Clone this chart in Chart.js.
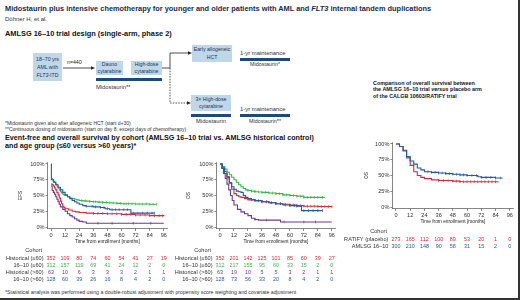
<!DOCTYPE html>
<html><head><meta charset="utf-8">
<script src="https://cdn.jsdelivr.net/npm/chart.js@4.4.0/dist/chart.umd.min.js"></script>
<style>
html,body{margin:0;padding:0;background:#fff;}
#wrap{position:relative;width:520px;height:300px;overflow:hidden;font-family:"Liberation Sans",Arial,sans-serif;color:#222;box-sizing:border-box;border-right:2px solid #333;border-bottom:2px solid #333;}
.t{position:absolute;white-space:nowrap;line-height:1;}
.box{position:absolute;background:#c0d7e9;color:#1d3557;font-size:5.2px;text-align:center;display:flex;align-items:center;justify-content:center;}
.box div{line-height:1.4;white-space:nowrap;}
.bar{position:absolute;background:#1f4a78;height:3px;}
canvas{position:absolute;}
svg{position:absolute;left:0;top:0;}
</style></head>
<body>
<div id="wrap">
<div class="t" style="left:5px;top:5px;font-size:7.4px;font-weight:bold;color:#1a2b4c;">Midostaurin plus intensive chemotherapy for younger and older patients with AML and <i>FLT3</i> internal tandem duplications</div>
<div class="t" style="left:5px;top:16px;font-size:6px;color:#333;">Döhner H, et al.</div>
<div class="t" style="left:5px;top:30px;font-size:7.4px;font-weight:bold;color:#111;">AMLSG 16–10 trial design (single-arm, phase 2)</div>

<div class="box" style="left:33px;top:53px;width:29px;height:28px;"><div style="line-height:1.6;">18–70 yrs<br>AML with<br><i>FLT3</i>-ITD</div></div>
<div class="t" style="left:67px;top:60px;font-size:5.2px;">n=440</div>
<div class="box" style="left:96px;top:61px;width:27px;height:14px;"><div>Dauno<br>cytarabine</div></div>
<div class="box" style="left:131px;top:61px;width:31px;height:14px;"><div>High-dose<br>cytarabine</div></div>
<div class="bar" style="left:96px;top:78px;width:66px;"></div>
<div class="t" style="left:96px;top:84.5px;font-size:5.8px;color:#333;">Midostaurin**</div>

<div class="box" style="left:192px;top:45px;width:40px;height:17px;"><div>Early allogeneic<br>HCT</div></div>
<div class="t" style="left:240px;top:51px;font-size:5.9px;color:#333;">1-yr maintenance</div>
<div class="bar" style="left:240px;top:57.5px;width:50px;"></div>
<div class="t" style="left:240px;top:62px;width:50px;text-align:center;font-size:5.4px;color:#333;">Midostaurin*</div>

<div class="box" style="left:191px;top:95px;width:40px;height:16px;"><div>3× High-dose<br>cytarabine</div></div>
<div class="bar" style="left:191px;top:113.5px;width:40px;"></div>
<div class="t" style="left:186px;top:118.5px;width:50px;text-align:center;font-size:5.8px;color:#333;">Midostaurin</div>
<div class="t" style="left:240px;top:107px;font-size:5.9px;color:#333;">1-yr maintenance</div>
<div class="bar" style="left:240px;top:113.5px;width:50px;"></div>
<div class="t" style="left:240px;top:118.5px;width:50px;text-align:center;font-size:5.4px;color:#333;">Midostaurin**</div>

<div class="t" style="left:5px;top:121px;font-size:5px;color:#333;">*Midostaurin given also after allogeneic HCT (start d+30)</div>
<div class="t" style="left:5px;top:127px;font-size:5px;color:#333;">**Continuous dosing of midostaurin (start on day 8; except days of chemotherapy)</div>

<div class="t" style="left:5px;top:133.5px;font-size:7.2px;font-weight:bold;color:#111;">Event-free and overall survival by cohort (AMLSG 16–10 trial vs. AMLSG historical control)</div>
<div class="t" style="left:5px;top:142px;font-size:7.2px;font-weight:bold;color:#111;">and age group (≤60 versus &gt;60 years)*</div>

<div class="t" style="left:373px;top:79.5px;font-size:5.4px;font-weight:bold;color:#111;line-height:6.6px;">Comparison of overall survival between<br>the AMLSG 16–10 trial <i>versus</i> placebo arm<br>of the CALGB 10603/RATIFY trial</div>

<div class="t" style="left:5px;top:290px;font-size:5.2px;color:#333;">*Statistical analysis was performed using a double-robust adjustment with propensity score weighting and covariate adjustment</div>

<svg width="520" height="300">
<g stroke="#222" stroke-width="0.8" fill="none">
<line x1="63" y1="68" x2="92" y2="68"/>
<polyline points="162,68 170,68 170,53 189,53"/>
<polyline points="170,68 170,103 188,103" stroke-dasharray="1.5,1.2"/>
</g>
<g fill="#222">
<polygon points="95,68 91,66.2 91,69.8"/>
<polygon points="192,53 188,51.2 188,54.8"/>
<polygon points="191,103 187,101.2 187,104.8"/>
</g>
</svg>

<canvas id="efs" width="172" height="138" style="left:0px;top:150px;"></canvas>
<canvas id="os" width="172" height="138" style="left:168px;top:150px;"></canvas>
<canvas id="cmp" width="188" height="125" style="left:330px;top:130px;"></canvas>
</div>

<script>
// ---- axes ----
const xTicks = [0, 12, 24, 36, 48, 60, 72, 84, 96];
const yTicks = [0, 25, 50, 75, 100];
const yTickLabels = ['0%', '25%', '50%', '75%', '100%'];

// ---- colors ----
const cRed = '#d62a3c', cGreen = '#3ab54a', cPurple = '#6b3b8f', cBlue = '#235b9e';

// ---- EFS curves (months, %) ----
const efsHistYoungT = [0,1,2,3,4,5,6,7,8,9,10,11,12,15,18,21,24,30,36,48,60,72,84,96];
const efsHistYoungS = [68,67,65,62,59,55,51,46,41,37,33,31,29,27,25,24,23,22,21.5,21,20,19,18,17];
const efsHistYoungC = [36,40,44,48,52,56,60,64,68,72,76,80,84,88,92,95];
const efsTrialYoungT = [0,1,2,3,4,5,6,7,8,9,10,11,12,14,16,18,20,22,24,27,30,33,36,40,44,48,52,56,60,66,72,84,90];
const efsTrialYoungS = [77,75,73,71,68,65,62,59,56,54,52,51,50,48,46,45,44,43,42,41.5,41,40.5,40,39.5,39,38.5,38,37.5,37,37,36.5,36,36];
const efsTrialYoungC = [26,29,33,36,38,41,44,47,50,53,56,59,62,64,66,69,72,75,78,81,84,87,90];
const efsHistOldT = [0,1,2,3,4,5,6,7,8,10,12,14,16,18,20,22,24,27,30,36,60,96];
const efsHistOldS = [65,58,55,52,48,44,40,36,32,28,25,21,18,16,13,11,9,8,6,6,6,6];
const efsHistOldC = [40,52,70,85];
const efsTrialOldT = [0,0.3,2,4,6,8,10,12,14,16,18,20,22,24,27,30,36,42,46,50,56,60,66,68,75,84,88];
const efsTrialOldS = [100,75,71,67,63,59,55,51,48,45,42,40,38,36,34,33,32,31,29,27.5,27.5,27.5,27.5,22,22,22,22];
const efsTrialOldC = [30,35,38,42,45,48,52,55,58,62,65,70,74,78,82,86,88];

// ---- OS curves ----
const osHistYoungT = [0,2,4,6,8,10,12,14,16,18,21,24,30,36,42,48,54,60,66,72,84,96];
const osHistYoungS = [100,95,88,80,70,60,53,50,48,47,45,43,41.5,40,38.5,37,36,35,34,33,32.5,32];
const osHistYoungC = [36,40,44,48,52,56,60,63,66,69,72,75,78,81,84,87,90,93,96];
const osTrialYoungT = [0,2,4,6,8,10,12,14,16,18,20,22,24,27,30,33,36,42,48,54,60,66,72,84,90];
const osTrialYoungS = [100,96,92,87,83,79,75,71,67,64,61,59,58,57,56,55.5,55,54,53,51,50,49,47,47,47];
const osTrialYoungC = [24,27,30,33,36,39,42,45,48,51,54,57,60,63,66,69,72,75,78,81,84,88];
const osHistOldT = [0,1.5,3,4.5,6,7.5,9,10.5,12,15,18,21,24,27,30,33,42,52,72,96];
const osHistOldS = [100,93,85,77,68,59,50,42,35,28,24,21,18,14,12,11,11,8,8,8];
const osHistOldC = [30,40,55,72,82];
const osTrialOldT = [0,2,4,6,8,10,12,14,16,18,20,22,24,27,30,36,42,48,54,60,66,70,80,88];
const osTrialOldS = [100,93,85,78,70,64,60,57,56,55,50,47,45,43.5,42,40,38.5,37,35,34,33,26,26,26];
const osTrialOldC = [27,30,33,36,40,44,48,52,56,60,64,66,72,76,80,84,88];

// ---- comparison OS curves ----
const cmpRatifyT = [0,3,6,9,12,15,18,21,24,30,36,42,48,54,60,72,86];
const cmpRatifyS = [100,96,89,78,66,56,50,47,45,43,42,42,41,40,40,40,39];
const cmpRatifyC = [36,40,44,48,51,54,57,60,63,66,69,72,75,78,81,84];
const cmpAmlsgT = [0,3,6,9,12,15,18,21,24,30,36,42,48,54,60,66,69,72,84,90];
const cmpAmlsgS = [100,96,90,80,73,68,62,59,56,55,54,53,52,51,50,50,48,47,46,46];
const cmpAmlsgC = [27,30,33,36,39,42,45,48,51,54,57,60,64,68,72,76,80,84,88];

// ---- numbers at risk ----
const efsRiskLabels = ['Historical (≤60)', '16–10 (≤60)', 'Historical (>60)', '16–10 (>60)'];
const efsRiskHistYoung = [352,109,80,74,60,54,41,27,19];
const efsRiskTrialYoung = [312,157,119,69,41,24,12,2,0];
const efsRiskHistOld = [63,10,6,3,3,3,2,1,1];
const efsRiskTrialOld = [128,60,39,26,16,8,4,2,0];
const osRiskHistYoung = [352,201,142,125,101,85,60,39,27];
const osRiskTrialYoung = [312,217,155,95,60,33,15,2,0];
const osRiskHistOld = [63,19,10,5,5,3,2,1,1];
const osRiskTrialOld = [128,73,56,33,20,8,4,2,0];
const cmpRiskLabels = ['RATIFY (placebo)', 'AMLSG 16–10'];
const cmpRiskRatify = [273,165,112,100,89,53,20,1,0];
const cmpRiskAmlsg = [300,210,148,90,58,31,15,2,0];

Chart.defaults.font.family = '"Liberation Sans", Arial, sans-serif';

function km(t, s) { return t.map((v, i) => ({ x: v, y: s[i] })); }
function stepAt(t, s, x) { let v = s[0]; for (let i = 0; i < t.length; i++) { if (t[i] <= x) v = s[i]; else break; } return v; }
function cens(t, s, c) { return c.map(x => ({ x: x, y: stepAt(t, s, x) })); }

const riskPlugin = {
  id: 'risk',
  afterDraw(chart, args, o) {
    const ctx = chart.ctx, xs = chart.scales.x, base = xs.bottom;
    const lx = xs.getPixelForValue(0) - 7.5;
    ctx.save();
    ctx.textBaseline = 'middle';
    ctx.font = '5.6px "Liberation Sans"';
    ctx.fillStyle = '#333'; ctx.textAlign = 'right';
    ctx.fillText('Cohort', lx - 1.5, base + o.cohortDy);
    o.rows.forEach((r, i) => {
      const y = base + o.rowDy + i * o.gap;
      ctx.font = '5.6px "Liberation Sans"';
      ctx.fillStyle = '#333'; ctx.textAlign = 'right';
      ctx.fillText(r.label, lx, y);
      ctx.font = '5.4px "Liberation Sans"';
      ctx.fillStyle = r.color; ctx.textAlign = 'center';
      r.values.forEach((v, j) => ctx.fillText(String(v), xs.getPixelForValue(xTicks[j]), y));
    });
    ctx.restore();
  }
};

function makeChart(id, series, o) {
  const datasets = [];
  series.forEach(s => {
    datasets.push({ type: 'line', data: km(s.t, s.s), borderColor: s.c, borderWidth: 1.1, stepped: 'before', pointRadius: 0, fill: false, order: s.order });
    datasets.push({ type: 'line', data: cens(s.t, s.s, s.cens), showLine: false, borderColor: s.c, borderWidth: 0.7, pointStyle: 'line', rotation: 90, pointRadius: 1.4, order: s.order });
  });
  const axisColor = '#333';
  return new Chart(document.getElementById(id), {
    data: { datasets },
    plugins: [riskPlugin],
    options: {
      responsive: false, animation: false, devicePixelRatio: 1,
      layout: { padding: { left: o.padL, right: o.padR, top: o.padT, bottom: o.padB } },
      plugins: { legend: { display: false }, tooltip: { enabled: false }, risk: o.risk },
      scales: {
        x: {
          type: 'linear', min: -3, max: 99,
          afterBuildTicks: s => { s.ticks = xTicks.map(v => ({ value: v })); },
          afterFit: s => { s.height = 16; },
          grid: { drawOnChartArea: false, drawTicks: true, tickLength: 2, color: axisColor, lineWidth: 0.6 },
          border: { display: true, color: axisColor, width: 0.6 },
          ticks: { font: { size: 5.6 }, color: '#333', padding: 1, maxRotation: 0, autoSkip: false },
          title: { display: true, text: 'Time from enrollment [months]', font: { size: 4.8 }, color: '#222', padding: 0 }
        },
        y: {
          type: 'linear', min: -3, max: 103,
          afterBuildTicks: s => { s.ticks = yTicks.map(v => ({ value: v })); },
          afterFit: s => { s.width = o.yW; },
          grid: { drawOnChartArea: false, drawTicks: true, tickLength: 2, color: axisColor, lineWidth: 0.6 },
          border: { display: true, color: axisColor, width: 0.6 },
          ticks: { font: { size: 5.6 }, color: '#333', padding: 1, callback: v => yTickLabels[yTicks.indexOf(v)] },
          title: { display: true, text: o.yTitle, font: { size: 4.8 }, color: '#222', padding: 0 }
        }
      }
    }
  });
}

makeChart('efs', [
  { t: efsHistYoungT, s: efsHistYoungS, cens: efsHistYoungC, c: cRed, order: 2 },
  { t: efsTrialYoungT, s: efsTrialYoungS, cens: efsTrialYoungC, c: cGreen, order: 1 },
  { t: efsHistOldT, s: efsHistOldS, cens: efsHistOldC, c: cPurple, order: 3 },
  { t: efsTrialOldT, s: efsTrialOldS, cens: efsTrialOldC, c: cBlue, order: 0 }
], { padL: 17.5, padR: 4.5, padT: 12.1, padB: 43.1, yW: 30, yTitle: 'EFS',
  risk: { cohortDy: 6, rowDy: 14, gap: 6.8, rows: [
    { label: efsRiskLabels[0], values: efsRiskHistYoung, color: cRed },
    { label: efsRiskLabels[1], values: efsRiskTrialYoung, color: cGreen },
    { label: efsRiskLabels[2], values: efsRiskHistOld, color: cPurple },
    { label: efsRiskLabels[3], values: efsRiskTrialOld, color: cBlue } ] } });

makeChart('os', [
  { t: osHistYoungT, s: osHistYoungS, cens: osHistYoungC, c: cRed, order: 2 },
  { t: osTrialYoungT, s: osTrialYoungS, cens: osTrialYoungC, c: cGreen, order: 1 },
  { t: osHistOldT, s: osHistOldS, cens: osHistOldC, c: cPurple, order: 3 },
  { t: osTrialOldT, s: osTrialOldS, cens: osTrialOldC, c: cBlue, order: 0 }
], { padL: 17.5, padR: 3.5, padT: 12.1, padB: 43.1, yW: 31, yTitle: 'OS',
  risk: { cohortDy: 6, rowDy: 14, gap: 6.8, rows: [
    { label: efsRiskLabels[0], values: osRiskHistYoung, color: cRed },
    { label: efsRiskLabels[1], values: osRiskTrialYoung, color: cGreen },
    { label: efsRiskLabels[2], values: osRiskHistOld, color: cPurple },
    { label: efsRiskLabels[3], values: osRiskTrialOld, color: cBlue } ] } });

makeChart('cmp', [
  { t: cmpRatifyT, s: cmpRatifyS, cens: cmpRatifyC, c: cRed, order: 1 },
  { t: cmpAmlsgT, s: cmpAmlsgS, cens: cmpAmlsgC, c: cBlue, order: 0 }
], { padL: 34.1, padR: 3.4, padT: 12.1, padB: 30.1, yW: 28.3, yTitle: 'OS',
  risk: { cohortDy: 7, rowDy: 15, gap: 6.8, rows: [
    { label: cmpRiskLabels[0], values: cmpRiskRatify, color: cRed },
    { label: cmpRiskLabels[1], values: cmpRiskAmlsg, color: cBlue } ] } });
</script>
</body></html>
